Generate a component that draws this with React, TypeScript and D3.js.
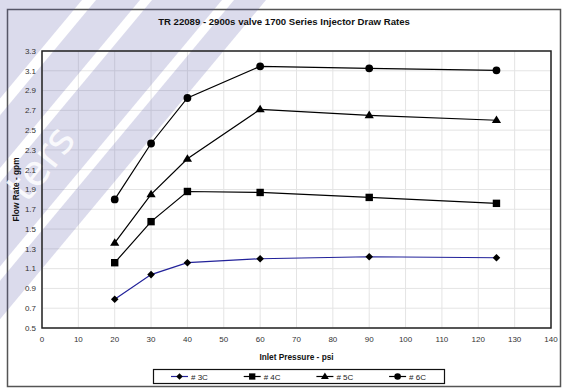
import React from "react";
import * as d3 from "d3";

const pressures = [20, 30, 40, 60, 90, 125];
const seriesNames = ["# 3C", "# 4C", "# 5C", "# 6C"];
const s3C = [0.79, 1.04, 1.16, 1.2, 1.22, 1.21];
const s4C = [1.16, 1.575, 1.88, 1.87, 1.82, 1.76];
const s5C = [1.36, 1.85, 2.21, 2.71, 2.65, 2.6];
const s6C = [1.8, 2.365, 2.825, 3.145, 3.125, 3.105];
const xTicks = d3.range(0, 141, 10);
const yTicks = [0.5, 0.7, 0.9, 1.1, 1.3, 1.5, 1.7, 1.9, 2.1, 2.3, 2.5, 2.7, 2.9, 3.1, 3.3];

const W = 564, H = 391;
const font = "'Liberation Sans', Arial, sans-serif";

const seriesData = [s3C, s4C, s5C, s6C];
const lineColors = ["#22229a", "#000", "#000", "#000"];

// watermark band ranges along u = x + y/k
const wmK = 1.2;
const wmBands = [[-400, 82], [96, 140], [152, 222], [234, 266]];

function markerPath(kind: number, s: number): string {
  switch (kind) {
    case 0:
      return `M0,${-s}L${s},0L0,${s}L${-s},0Z`;
    case 1:
      return `M${-s},${-s}H${s}V${s}H${-s}Z`;
    case 2: {
      const h = s * 1.8;
      return `M0,${-h * 0.62}L${s * 1.1},${h * 0.38}L${-s * 1.1},${h * 0.38}Z`;
    }
    default:
      return d3.symbol().type(d3.symbolCircle).size(Math.PI * s * s)() || "";
  }
}
const markerSizes = [3.8, 3.7, 4.2, 3.9];

export default function App() {
  const x = d3.scaleLinear().domain([0, 140]).range([42, 551]);
  const y = d3.scaleLinear().domain([0.5, 3.3]).range([328, 51]);
  const line = d3.line<number>().x((_, i) => x(pressures[i])).y((d) => y(d));

  const bandPoly = (u0: number, u1: number) => {
    const pts = [
      [u0, 0], [u1, 0], [u1 - H / wmK, H], [u0 - H / wmK, H],
    ];
    return pts.map((p) => p.join(",")).join(" ");
  };

  return (
    <svg width={W} height={H} style={{ position: "absolute", left: 0, top: 0, background: "#fff" }} fontFamily={font}>
      <rect x={0} y={0} width={W} height={H} fill="#fff" />
      <rect x={7.5} y={9.5} width={553} height={377} fill="#fff" stroke="#555" strokeWidth={1.5} />
      <rect x={x(0)} y={y(3.3)} width={x(140) - x(0)} height={y(0.5) - y(3.3)} fill="#fff" />
      {xTicks.map((t) => (
        <line key={"gx" + t} x1={x(t)} x2={x(t)} y1={y(3.3)} y2={y(0.5)} stroke="#e4e4e4" strokeWidth={1} />
      ))}
      {yTicks.map((t) => (
        <line key={"gy" + t} x1={x(0)} x2={x(140)} y1={y(t)} y2={y(t)} stroke="#e4e4e4" strokeWidth={1} />
      ))}
      <g>
        {wmBands.map((b, i) => (
          <polygon key={"wm" + i} points={bandPoly(b[0], b[1])} fill="#5a5aaa" opacity={0.22} />
        ))}
        <text x={52} y={172} transform="rotate(-52 52 172)" fontSize={42} fill="#fff" textAnchor="middle"
          fontFamily="'DejaVu Sans', sans-serif" opacity={0.85}>ters</text>
      </g>
      <rect x={x(0)} y={y(3.3)} width={x(140) - x(0)} height={y(0.5) - y(3.3)} fill="none" stroke="#222" strokeWidth={1.5} />
      <text x={284} y={25} textAnchor="middle" fontSize={9.6} fontWeight="bold" fill="#111">
        TR 22089 - 2900s valve 1700 Series Injector Draw Rates
      </text>
      {yTicks.map((t) => (
        <text key={"yt" + t} x={36} y={y(t)} dy="0.35em" textAnchor="end" fontSize={8} fill="#333">
          {t.toFixed(1)}
        </text>
      ))}
      {xTicks.map((t) => (
        <text key={"xt" + t} x={x(t)} y={342} textAnchor="middle" fontSize={8} fill="#333">
          {t}
        </text>
      ))}
      <text x={x(70)} y={360} textAnchor="middle" fontSize={8.3} fontWeight="bold" fill="#111">
        Inlet Pressure - psi
      </text>
      <text transform={`translate(19,${(y(0.5) + y(3.3)) / 2}) rotate(-90)`} textAnchor="middle" fontSize={8.3} fontWeight="bold" fill="#111">
        Flow Rate - gpm
      </text>
      {seriesData.map((s, si) => (
        <g key={"s" + si}>
          <path d={line(s) || ""} fill="none" stroke={lineColors[si]} strokeWidth={1.2} />
          {s.map((v, i) => (
            <path key={i} transform={`translate(${x(pressures[i])},${y(v)})`}
              d={markerPath(si, markerSizes[si])} fill="#000" />
          ))}
        </g>
      ))}
      <rect x={153.5} y={369.5} width={291} height={14} fill="#fff" stroke="#111" strokeWidth={1.2} />
      {seriesNames.map((n, i) => {
        const lx = 171 + i * 72.7;
        return (
          <g key={"lg" + i}>
            <line x1={lx} x2={lx + 17} y1={376.5} y2={376.5} stroke={lineColors[i]} strokeWidth={1.2} />
            <path transform={`translate(${lx + 8.5},376.5)`} d={markerPath(i, markerSizes[i] * 0.85)} fill="#000" />
            <text x={lx + 20} y={379.5} fontSize={8} fill="#222">{n}</text>
          </g>
        );
      })}
    </svg>
  );
}
